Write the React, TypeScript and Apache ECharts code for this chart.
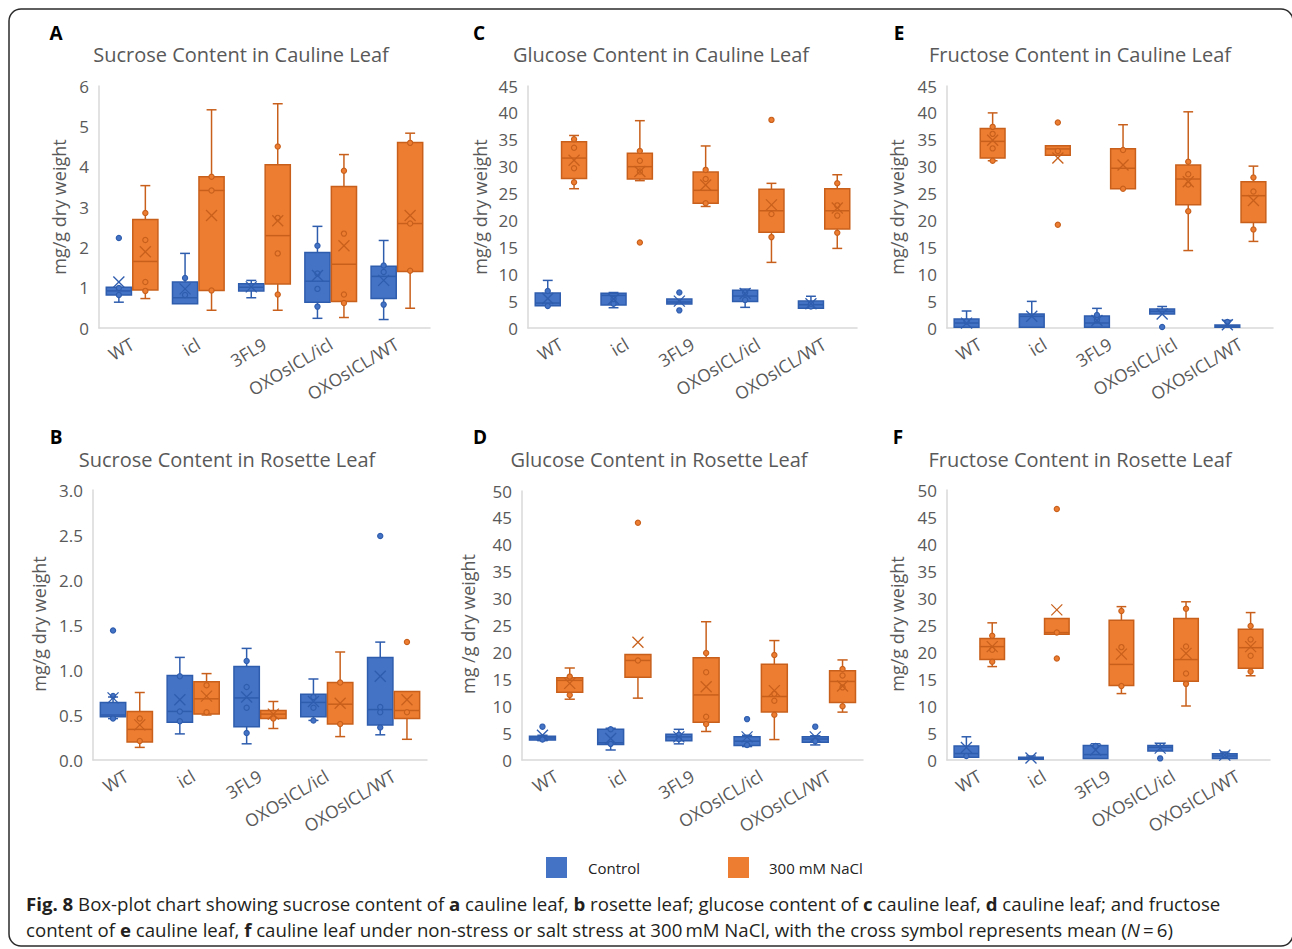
import React, { useEffect, useRef } from 'react';
import * as echarts from 'echarts';

const FONT = "'Open Sans', 'Noto Sans', sans-serif";
const categories = ['WT', 'icl', '3FL9', 'OXOsICL/icl', 'OXOsICL/WT'];
const legendNames = ['Control', '300 mM NaCl'];

// ---------- A: Sucrose, cauline leaf  (box = [min, Q1, median, Q3, max]) ----------
const sucCauCtrlBox = [[0.64, 0.82, 0.92, 1.01, 1.01], [0.6, 0.6, 0.75, 1.14, 1.85], [0.75, 0.92, 1.01, 1.1, 1.18], [0.24, 0.64, 1.16, 1.87, 2.52], [0.21, 0.73, 1.28, 1.53, 2.17]];
const sucCauCtrlMean = [1.14, 0.97, 1.02, 1.3, 1.18];
const sucCauCtrlOut = [[0, 2.23]];
const sucCauCtrlPts = [[0, 0.99], [0, 0.82], [1, 1.24], [1, 0.82], [3, 2.04], [3, 1.35], [3, 0.97], [3, 0.53], [4, 1.55], [4, 1.39], [4, 0.58]];
const sucCauSaltBox = [[0.73, 0.94, 1.65, 2.69, 3.53], [0.44, 0.93, 3.41, 3.75, 5.41], [0.44, 1.09, 2.29, 4.05, 5.56], [0.26, 0.66, 1.58, 3.51, 4.3], [0.49, 1.4, 2.59, 4.6, 4.83]];
const sucCauSaltMean = [1.89, 2.79, 2.66, 2.04, 2.79];
const sucCauSaltOut: number[][] = [];
const sucCauSaltPts = [[0, 2.85], [0, 2.18], [0, 1.14], [0, 0.92], [1, 3.75], [1, 3.41], [1, 0.93], [2, 4.5], [2, 2.73], [2, 1.85], [2, 0.83], [3, 3.9], [3, 2.34], [3, 0.83], [3, 0.62], [4, 4.59], [4, 2.59], [4, 1.42]];

// ---------- B: Sucrose, rosette leaf ----------
const sucRosCtrlBox = [[0.46, 0.48, 0.5, 0.64, 0.7], [0.29, 0.42, 0.54, 0.94, 1.14], [0.18, 0.37, 0.69, 1.04, 1.24], [0.44, 0.48, 0.64, 0.73, 0.9], [0.28, 0.39, 0.56, 1.14, 1.31]];
const sucRosCtrlMean = [0.69, 0.67, 0.7, 0.65, 0.93];
const sucRosCtrlOut = [[0, 1.44], [4, 2.49]];
const sucRosCtrlPts = [[0, 0.71], [0, 0.46], [1, 0.93], [1, 0.54], [1, 0.43], [2, 1.1], [2, 0.81], [2, 0.58], [2, 0.3], [3, 0.7], [3, 0.58], [3, 0.44], [4, 0.59], [4, 0.53], [4, 0.36]];
const sucRosSaltBox = [[0.14, 0.2, 0.34, 0.54, 0.75], [0.5, 0.51, 0.68, 0.87, 0.96], [0.35, 0.46, 0.51, 0.55, 0.65], [0.26, 0.4, 0.62, 0.86, 1.2], [0.23, 0.46, 0.55, 0.76, 0.76]];
const sucRosSaltMean = [0.39, 0.71, 0.51, 0.63, 0.67];
const sucRosSaltOut = [[4, 1.31]];
const sucRosSaltPts = [[0, 0.46], [0, 0.21], [1, 0.83], [1, 0.53], [2, 0.46], [3, 0.86], [3, 0.4], [4, 0.53]];

// ---------- C: Glucose, cauline leaf ----------
const gluCauCtrlBox = [[4.15, 4.15, 4.64, 6.5, 8.85], [3.77, 4.27, 6.06, 6.44, 6.6], [4.46, 4.46, 4.83, 5.38, 5.38], [3.84, 4.95, 5.94, 7.0, 7.24], [3.65, 3.65, 4.33, 5.0, 5.9]];
const gluCauCtrlMean = [5.5, 5.4, 5.0, 6.4, 4.5];
const gluCauCtrlOut = [[2, 6.6], [2, 3.28]];
const gluCauCtrlPts = [[0, 6.87], [0, 4.1], [1, 4.5], [1, 5.4], [3, 5.2], [3, 6.6], [4, 4.0], [4, 4.5]];
const gluCauSaltBox = [[25.9, 27.8, 31.6, 34.65, 35.8], [27.4, 27.7, 30.0, 32.5, 38.55], [22.6, 23.2, 25.6, 29.0, 33.85], [12.2, 17.8, 21.8, 25.8, 26.9], [14.8, 18.4, 21.8, 25.9, 28.5]];
const gluCauSaltMean = [31.2, 29.1, 26.6, 22.9, 22.3];
const gluCauSaltOut = [[1, 15.9], [3, 38.7]];
const gluCauSaltPts = [[0, 35.1], [0, 33.5], [0, 29.7], [0, 27.1], [1, 32.9], [1, 31.1], [1, 29.1], [2, 29.4], [2, 27.7], [2, 23.2], [3, 21.2], [3, 16.9], [4, 26.9], [4, 22.8], [4, 20.9], [4, 17.7]];

// ---------- D: Glucose, rosette leaf ----------
const gluRosCtrlBox = [[3.6, 3.7, 4.1, 4.4, 4.6], [1.86, 2.9, 3.2, 5.7, 5.9], [3.0, 3.6, 4.3, 4.77, 5.7], [2.5, 2.7, 3.5, 4.3, 4.6], [2.8, 3.3, 3.9, 4.3, 4.5]];
const gluRosCtrlMean = [4.6, 4.0, 4.3, 4.3, 4.3];
const gluRosCtrlOut = [[0, 6.2], [3, 7.6], [4, 6.2]];
const gluRosCtrlPts = [[0, 3.8], [1, 5.7], [1, 3.0], [2, 4.7], [2, 3.9], [3, 2.8], [4, 3.5]];
const gluRosSaltBox = [[11.3, 12.6, 14.8, 15.3, 17.1], [11.5, 15.4, 18.5, 19.6, 19.6], [5.3, 7.0, 12.1, 19.0, 25.7], [3.8, 8.9, 11.8, 17.8, 22.2], [8.9, 10.7, 14.6, 16.6, 18.6]];
const gluRosSaltMean = [14.25, 21.9, 13.6, 12.9, 13.75];
const gluRosSaltOut = [[1, 44.1]];
const gluRosSaltPts = [[0, 15.5], [0, 12.1], [1, 18.5], [2, 19.9], [2, 16.3], [2, 8.05], [2, 6.7], [3, 19.5], [3, 12.3], [3, 11.0], [3, 8.4], [4, 16.9], [4, 15.7], [4, 13.5], [4, 10.0]];

// ---------- E: Fructose, cauline leaf ----------
const fruCauCtrlBox = [[0.12, 0.12, 0.93, 1.67, 3.16], [0.12, 0.12, 2.17, 2.6, 4.95], [0.12, 0.12, 0.93, 2.23, 3.65], [2.6, 2.6, 3.1, 3.53, 4.0], [0.12, 0.12, 0.37, 0.56, 1.42]];
const fruCauCtrlMean = [0.9, 2.17, 1.4, 2.6, 0.6];
const fruCauCtrlOut = [[3, 0.19]];
const fruCauCtrlPts = [[0, 1.2], [2, 2.4], [2, 1.5], [4, 1.1]];
const fruCauSaltBox = [[31.1, 31.6, 34.7, 37.1, 40.0], [32.1, 32.1, 33.3, 33.9, 33.9], [25.9, 25.9, 29.7, 33.35, 37.8], [14.4, 22.9, 27.7, 30.3, 40.2], [16.1, 19.6, 24.6, 27.2, 30.1]];
const fruCauSaltMean = [34.9, 31.6, 30.3, 27.2, 23.7];
const fruCauSaltOut = [[1, 38.2], [1, 19.2]];
const fruCauSaltPts = [[0, 37.4], [0, 36.1], [0, 33.4], [0, 31.1], [1, 32.9], [2, 33.1], [2, 25.9], [3, 30.9], [3, 28.6], [3, 26.7], [3, 21.7], [4, 28.0], [4, 25.4], [4, 18.3]];

// ---------- F: Fructose, rosette leaf ----------
const fruRosCtrlBox = [[0.5, 0.5, 1.2, 2.6, 4.3], [0.12, 0.12, 0.25, 0.5, 0.74], [0.3, 0.3, 1.0, 2.7, 3.0], [1.67, 1.67, 2.35, 2.7, 3.1], [0.3, 0.3, 0.74, 1.17, 1.48]];
const fruRosCtrlMean = [2.3, 0.37, 1.85, 2.2, 0.9];
const fruRosCtrlOut = [[3, 0.3]];
const fruRosCtrlPts = [[0, 0.74], [2, 2.6], [4, 0.9]];
const fruRosSaltBox = [[17.3, 18.6, 21.0, 22.5, 25.4], [23.3, 23.3, 23.6, 26.2, 26.2], [12.3, 13.8, 17.7, 25.9, 28.4], [10.0, 14.6, 18.6, 26.2, 29.3], [15.6, 17.0, 20.8, 24.2, 27.3]];
const fruRosSaltMean = [21.0, 27.8, 19.6, 19.75, 21.0];
const fruRosSaltOut = [[1, 46.5], [1, 18.8]];
const fruRosSaltPts = [[0, 23.0], [0, 20.4], [0, 18.2], [1, 23.6], [2, 27.6], [2, 20.9], [2, 13.7], [3, 28.0], [3, 21.0], [3, 16.0], [3, 14.1], [4, 24.8], [4, 22.3], [4, 19.3], [4, 16.4]];

const BLUE = '#4472C4';
const BLUE_D = '#2F5DAE';
const ORANGE = '#ED7D31';
const ORANGE_D = '#C8601C';

const panels = [
  { letter: 'A', title: 'Sucrose Content in Cauline Leaf', yName: 'mg/g dry weight', grid: { left: 99, top: 86, width: 331, height: 242 }, max: 6, interval: 1, dec: 0, letterXY: [56, 33], titleXY: [241, 54], nameXY: [59, 207],
    ctrl: { box: sucCauCtrlBox, mean: sucCauCtrlMean, out: sucCauCtrlOut, pts: sucCauCtrlPts }, salt: { box: sucCauSaltBox, mean: sucCauSaltMean, out: sucCauSaltOut, pts: sucCauSaltPts } },
  { letter: 'C', title: 'Glucose Content in Cauline Leaf', yName: 'mg/g dry weight', grid: { left: 528, top: 86, width: 329, height: 242 }, max: 45, interval: 5, dec: 0, letterXY: [479, 33], titleXY: [661, 54], nameXY: [480, 207],
    ctrl: { box: gluCauCtrlBox, mean: gluCauCtrlMean, out: gluCauCtrlOut, pts: gluCauCtrlPts }, salt: { box: gluCauSaltBox, mean: gluCauSaltMean, out: gluCauSaltOut, pts: gluCauSaltPts } },
  { letter: 'E', title: 'Fructose Content in Cauline Leaf', yName: 'mg/g dry weight', grid: { left: 947, top: 86, width: 326, height: 242 }, max: 45, interval: 5, dec: 0, letterXY: [899, 33], titleXY: [1080, 54], nameXY: [897, 207],
    ctrl: { box: fruCauCtrlBox, mean: fruCauCtrlMean, out: fruCauCtrlOut, pts: fruCauCtrlPts }, salt: { box: fruCauSaltBox, mean: fruCauSaltMean, out: fruCauSaltOut, pts: fruCauSaltPts } },
  { letter: 'B', title: 'Sucrose Content in Rosette Leaf', yName: 'mg/g dry weight', grid: { left: 93, top: 490, width: 334, height: 270 }, max: 3, interval: 0.5, dec: 1, letterXY: [56, 437], titleXY: [227, 459], nameXY: [39, 624],
    ctrl: { box: sucRosCtrlBox, mean: sucRosCtrlMean, out: sucRosCtrlOut, pts: sucRosCtrlPts }, salt: { box: sucRosSaltBox, mean: sucRosSaltMean, out: sucRosSaltOut, pts: sucRosSaltPts } },
  { letter: 'D', title: 'Glucose Content in Rosette Leaf', yName: 'mg /g dry weight', grid: { left: 522, top: 491, width: 341, height: 269 }, max: 50, interval: 5, dec: 0, letterXY: [480, 437], titleXY: [659, 459], nameXY: [468, 624],
    ctrl: { box: gluRosCtrlBox, mean: gluRosCtrlMean, out: gluRosCtrlOut, pts: gluRosCtrlPts }, salt: { box: gluRosSaltBox, mean: gluRosSaltMean, out: gluRosSaltOut, pts: gluRosSaltPts } },
  { letter: 'F', title: 'Fructose Content in Rosette Leaf', yName: 'mg/g dry weight', grid: { left: 947, top: 490, width: 323, height: 270 }, max: 50, interval: 5, dec: 0, letterXY: [898, 437], titleXY: [1080, 459], nameXY: [897, 624],
    ctrl: { box: fruRosCtrlBox, mean: fruRosCtrlMean, out: fruRosCtrlOut, pts: fruRosCtrlPts }, salt: { box: fruRosSaltBox, mean: fruRosSaltMean, out: fruRosSaltOut, pts: fruRosSaltPts } },
];

const OFFSET = 0.2;
const BOXW = 0.38;
const CAPW = 0.15;

function boxRenderer(side: number, fill: string, stroke: string) {
  return (params: any, api: any) => {
    const cat = api.value(0);
    const bw = api.size([1, 0])[0];
    const cx = api.coord([cat, 0])[0] + side * OFFSET * bw;
    const half = (BOXW * bw) / 2;
    const cap = (CAPW * bw) / 2;
    const y = (i: number) => api.coord([cat, api.value(i)])[1];
    const yMin = y(1), yQ1 = y(2), yMed = y(3), yQ3 = y(4), yMax = y(5);
    const ls = { stroke, lineWidth: 1.5 };
    const children: any[] = [];
    if (yMax < yQ3 - 0.5) {
      children.push({ type: 'line', shape: { x1: cx, y1: yQ3, x2: cx, y2: yMax }, style: ls });
      children.push({ type: 'line', shape: { x1: cx - cap, y1: yMax, x2: cx + cap, y2: yMax }, style: ls });
    }
    if (yMin > yQ1 + 0.5) {
      children.push({ type: 'line', shape: { x1: cx, y1: yQ1, x2: cx, y2: yMin }, style: ls });
      children.push({ type: 'line', shape: { x1: cx - cap, y1: yMin, x2: cx + cap, y2: yMin }, style: ls });
    }
    children.push({ type: 'rect', shape: { x: cx - half, y: yQ3, width: half * 2, height: Math.max(yQ1 - yQ3, 1) }, style: { fill, stroke, lineWidth: 1.5 } });
    children.push({ type: 'line', shape: { x1: cx - half, y1: yMed, x2: cx + half, y2: yMed }, style: ls });
    return { type: 'group', children };
  };
}

function markRenderer(kind: string, side: number, fill: string, stroke: string) {
  return (params: any, api: any) => {
    const cat = api.value(0);
    const bw = api.size([1, 0])[0];
    const p = api.coord([cat, api.value(1)]);
    const cx = p[0] + side * OFFSET * bw;
    const cy = p[1];
    if (kind === 'mean') {
      const s = 5.5;
      return {
        type: 'group',
        children: [
          { type: 'line', shape: { x1: cx - s, y1: cy - s, x2: cx + s, y2: cy + s }, style: { stroke, lineWidth: 1.3 } },
          { type: 'line', shape: { x1: cx - s, y1: cy + s, x2: cx + s, y2: cy - s }, style: { stroke, lineWidth: 1.3 } },
        ],
      };
    }
    return { type: 'circle', shape: { cx, cy, r: 2.6 }, style: { fill, stroke, lineWidth: 1.2 } };
  };
}

function buildOption() {
  const grid: any[] = [];
  const xAxis: any[] = [];
  const yAxis: any[] = [];
  const series: any[] = [];
  const graphic: any[] = [];

  panels.forEach((p, i) => {
    grid.push({ ...p.grid, containLabel: false });
    xAxis.push({
      type: 'category', gridIndex: i, data: categories,
      axisLine: { lineStyle: { color: '#D9D9D9', width: 1.5 } },
      axisTick: { show: false },
      axisLabel: { interval: 0, rotate: 31, fontSize: 17.5, color: '#595959', fontFamily: FONT, margin: 14 },
    });
    yAxis.push({
      type: 'value', gridIndex: i, min: 0, max: p.max, interval: p.interval,
      axisLine: { show: true, lineStyle: { color: '#D9D9D9', width: 1.5 } },
      axisTick: { show: false },
      splitLine: { show: false },
      axisLabel: { fontSize: 17, color: '#595959', fontFamily: FONT, margin: 10, formatter: (v: number) => v.toFixed(p.dec) },
    });
    const groups = [
      { d: p.ctrl, side: -1, fill: BLUE, stroke: BLUE_D },
      { d: p.salt, side: 1, fill: ORANGE, stroke: ORANGE_D },
    ];
    groups.forEach((g) => {
      series.push({
        type: 'custom', xAxisIndex: i, yAxisIndex: i,
        renderItem: boxRenderer(g.side, g.fill, g.stroke),
        encode: { x: 0, y: [1, 2, 3, 4, 5] },
        data: g.d.box.map((b, k) => [k, ...b]),
        z: 2,
      });
    });
    groups.forEach((g) => {
      series.push({
        type: 'custom', xAxisIndex: i, yAxisIndex: i,
        renderItem: markRenderer('pt', g.side, g.fill, g.stroke),
        encode: { x: 0, y: 1 },
        data: [...g.d.pts, ...g.d.out],
        z: 3,
      });
      series.push({
        type: 'custom', xAxisIndex: i, yAxisIndex: i,
        renderItem: markRenderer('mean', g.side, g.fill, g.stroke),
        encode: { x: 0, y: 1 },
        data: g.d.mean.map((m, k) => [k, m]),
        z: 4,
      });
    });

    graphic.push({ type: 'text', x: p.letterXY[0], y: p.letterXY[1], style: { text: p.letter, fontSize: 19, fontWeight: 'bold', fontFamily: FONT, fill: '#000', textAlign: 'center', textVerticalAlign: 'middle' } });
    graphic.push({ type: 'text', x: p.titleXY[0], y: p.titleXY[1], style: { text: p.title, fontSize: 20, fontFamily: FONT, fill: '#595959', textAlign: 'center', textVerticalAlign: 'middle' } });
    graphic.push({ type: 'text', x: p.nameXY[0], y: p.nameXY[1], rotation: Math.PI / 2, style: { text: p.yName, fontSize: 18, fontFamily: FONT, fill: '#595959', textAlign: 'center', textVerticalAlign: 'middle' } });
  });

  // legend
  graphic.push({ type: 'rect', shape: { x: 546, y: 857, width: 21, height: 21 }, style: { fill: BLUE } });
  graphic.push({ type: 'text', x: 588, y: 868, style: { text: legendNames[0], fontSize: 15, fontFamily: FONT, fill: '#222', textVerticalAlign: 'middle' } });
  graphic.push({ type: 'rect', shape: { x: 728, y: 857, width: 21, height: 21 }, style: { fill: ORANGE } });
  graphic.push({ type: 'text', x: 769, y: 868, style: { text: legendNames[1], fontSize: 15, fontFamily: FONT, fill: '#222', textVerticalAlign: 'middle' } });

  // caption
  const CF = 18.65;
  const rich = {
    b: { fontWeight: 'bold', fontSize: CF, fontFamily: FONT, fill: '#231F20' },
    i: { fontStyle: 'italic', fontSize: CF, fontFamily: FONT, fill: '#231F20' },
  };
  graphic.push({ type: 'text', x: 26, y: 903, style: { text: '{b|Fig. 8} Box-plot chart showing sucrose content of {b|a} cauline leaf, {b|b} rosette leaf; glucose content of {b|c} cauline leaf, {b|d} cauline leaf; and fructose', rich, fontSize: CF, fontFamily: FONT, fill: '#231F20', textVerticalAlign: 'middle' } });
  graphic.push({ type: 'text', x: 26, y: 929, style: { text: 'content of {b|e} cauline leaf, {b|f} cauline leaf under non-stress or salt stress at 300\u2009mM NaCl, with the cross symbol represents mean ({i|N}\u2009=\u20096)', rich, fontSize: CF, fontFamily: FONT, fill: '#231F20', textVerticalAlign: 'middle' } });

  // frame
  graphic.push({ type: 'rect', shape: { x: 9, y: 9, width: 1284, height: 937, r: 12 }, style: { fill: 'none', stroke: '#2b2b2b', lineWidth: 1.5 }, z: 100 });

  return { animation: false, backgroundColor: '#ffffff', grid, xAxis, yAxis, series, graphic };
}

export default function App() {
  const ref = useRef<HTMLDivElement>(null);
  useEffect(() => {
    if (!ref.current) return;
    const chart = echarts.init(ref.current, undefined, { renderer: 'svg' });
    chart.setOption(buildOption() as any);
    return () => chart.dispose();
  }, []);
  return <div ref={ref} style={{ position: 'absolute', left: 0, top: 0, width: 1292, height: 949 }} />;
}
